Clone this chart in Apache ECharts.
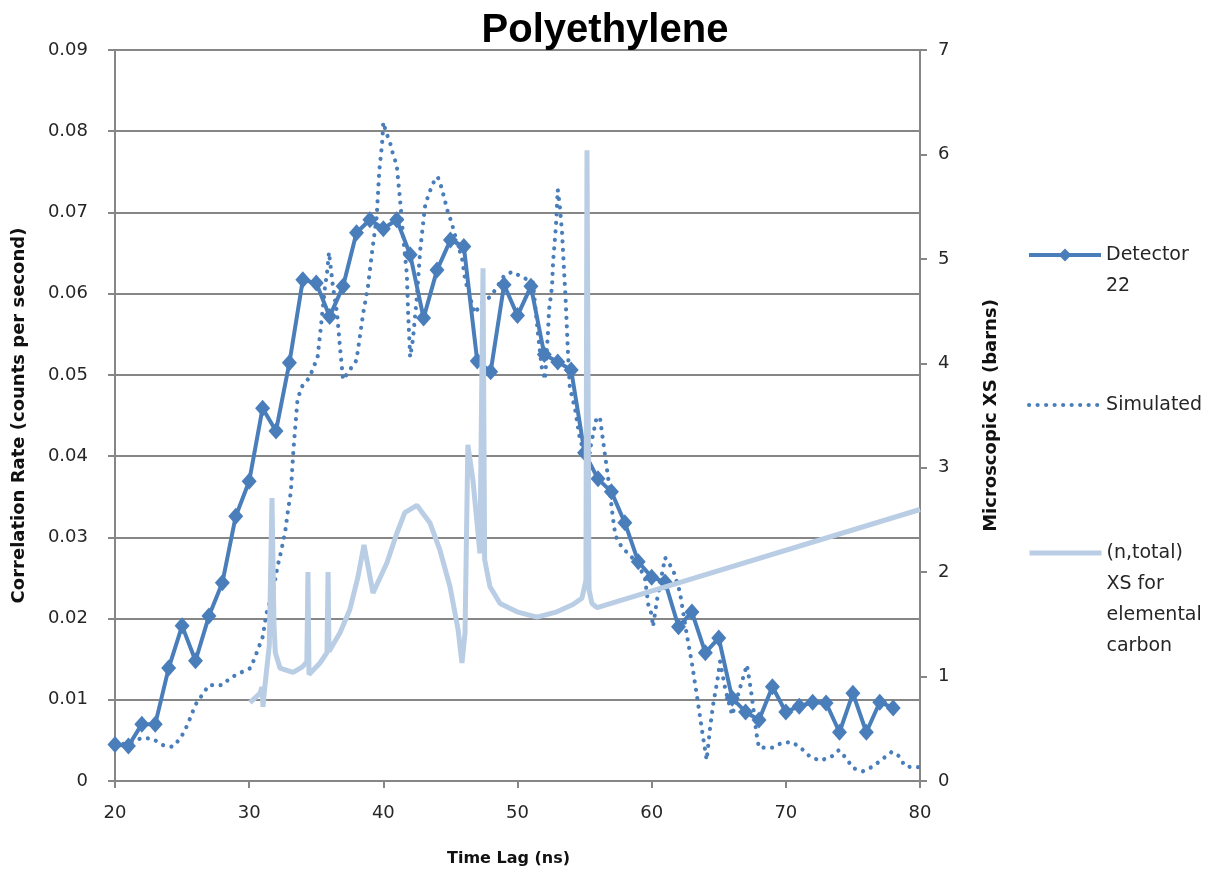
<!DOCTYPE html>
<html>
<head>
<meta charset="utf-8">
<script src="https://cdn.jsdelivr.net/npm/echarts@6/dist/echarts.min.js"></script>
<style>html,body{margin:0;padding:0;background:#fff}#c{width:1225px;height:878px}</style>
</head>
<body>
<div id="c"></div>
<script>
// Detector 22 (counts per second) at integer time lags
const detX = [20,21,22,23,24,25,26,27,28,29,30,31,32,33,34,35,36,37,38,39,40,41,42,43,44,45,46,47,48,49,50,51,52,53,54,55,56,57,58,59,60,61,62,63,64,65,66,67,68,69,70,71,72,73,74,75,76,77,78];
const detY = [0.0045,0.0043,0.0070,0.0070,0.0139,0.0191,0.0148,0.0203,0.0244,0.0326,0.0369,0.0459,0.0431,0.0515,0.0617,0.0613,0.0572,0.0609,0.0675,0.0691,0.0680,0.0691,0.0648,0.0570,0.0629,0.0666,0.0658,0.0517,0.0504,0.0611,0.0573,0.0609,0.0525,0.0516,0.0506,0.0404,0.0372,0.0356,0.0318,0.0270,0.0251,0.0245,0.0190,0.0208,0.0158,0.0176,0.0102,0.0085,0.0075,0.0116,0.0085,0.0092,0.0097,0.0096,0.0060,0.0108,0.0060,0.0097,0.0090];

// Simulated
const simX = [20.0,21.0,22.0,22.8,23.6,24.3,24.9,25.4,26.0,26.5,27.0,28.0,28.6,29.3,30.1,30.4,31.0,31.3,31.8,32.1,32.4,32.7,32.9,33.1,33.3,33.6,33.9,34.5,35.1,35.3,35.45,35.65,35.8,35.95,36.25,36.55,36.77,37.0,37.5,38.0,38.5,38.85,39.15,39.5,39.7,39.9,40.0,40.2,40.5,40.7,41.0,41.25,41.5,41.75,41.85,42.0,42.2,42.5,42.75,43.1,43.35,43.7,44.05,44.35,44.8,45.1,45.5,45.85,46.1,46.3,46.8,47.5,48.0,49.0,49.6,50.4,51.15,51.5,51.8,52.05,52.27,52.35,52.57,52.65,52.8,52.87,53.0,53.15,53.32,53.46,53.6,53.76,53.9,54.3,54.66,55.0,55.3,55.8,55.9,56.15,56.4,56.7,56.9,57.1,57.3,57.8,58.4,59.1,59.5,59.75,60.0,60.1,60.4,61.0,61.6,62.1,62.6,63.0,63.4,63.8,64.1,64.35,64.6,64.9,65.1,65.5,66.0,66.7,67.1,67.4,67.85,68.0,69.0,69.7,70.45,71.1,71.8,72.55,73.4,73.95,74.5,75.0,75.75,76.5,77.2,77.9,78.4,78.9,79.5,80.0];
const simY = [0.0045,0.0046,0.0053,0.0052,0.0044,0.0042,0.0053,0.0069,0.0094,0.0106,0.0118,0.0118,0.0127,0.0133,0.0139,0.0151,0.0177,0.0207,0.0235,0.0263,0.0284,0.0309,0.0334,0.0355,0.0408,0.0469,0.0485,0.0497,0.0522,0.0552,0.0576,0.0608,0.0625,0.0651,0.0608,0.0576,0.0534,0.0494,0.0506,0.0518,0.0576,0.0608,0.0650,0.0694,0.0752,0.0783,0.0811,0.0799,0.0786,0.0773,0.0758,0.0715,0.0666,0.0625,0.0576,0.0522,0.0543,0.0596,0.0654,0.0707,0.0721,0.0736,0.0744,0.0730,0.0701,0.0687,0.0662,0.0645,0.0617,0.0605,0.0576,0.0592,0.0596,0.0622,0.0627,0.0620,0.0614,0.0555,0.0510,0.0494,0.0552,0.0580,0.0608,0.0639,0.0669,0.0685,0.0728,0.0708,0.0676,0.0632,0.0589,0.0528,0.0485,0.0457,0.0420,0.0404,0.0400,0.0440,0.0448,0.0447,0.0416,0.0380,0.0355,0.0325,0.0302,0.0287,0.0278,0.0263,0.0250,0.0217,0.0205,0.0190,0.0223,0.0275,0.0260,0.0233,0.0182,0.0145,0.0102,0.0057,0.0026,0.0065,0.0096,0.0124,0.0147,0.0112,0.0081,0.0121,0.0143,0.0112,0.0054,0.0041,0.0041,0.0047,0.0048,0.0041,0.0030,0.0025,0.0030,0.0038,0.0028,0.0016,0.0012,0.0018,0.0027,0.0036,0.0031,0.0018,0.0017,0.0017];

// (n,total) XS for elemental carbon (barns)
const xsX = [30.06,30.8,30.96,31.03,31.15,31.5,31.7,31.85,31.95,32.3,33.27,33.94,34.3,34.38,34.46,35.28,35.8,35.88,35.95,36.77,37.5,38.1,38.56,39.23,40.27,41.0,41.6,42.5,43.48,44.22,44.97,45.57,45.86,46.09,46.3,46.68,47.2,47.43,47.55,47.95,48.7,49.96,51.45,52.94,54.13,54.8,55.1,55.18,55.33,55.55,55.93,80.0];
const xsY = [0.75,0.84,0.90,0.71,0.88,1.30,2.71,1.50,1.23,1.08,1.04,1.09,1.14,2.00,1.02,1.13,1.23,2.00,1.24,1.42,1.64,1.95,2.26,1.80,2.09,2.37,2.57,2.64,2.47,2.21,1.86,1.45,1.13,1.42,3.22,2.88,2.18,4.91,2.12,1.86,1.70,1.62,1.57,1.62,1.69,1.75,1.92,6.04,1.83,1.70,1.66,2.60];

const seriesNames = ['Detector 22', 'Simulated', '(n,total) XS for elemental carbon'];
const legendText = {
  'Detector 22': '\nDetector\n22',
  'Simulated': 'Simulated',
  '(n,total) XS for elemental carbon': '\n\n\n(n,total)\nXS for\nelemental\ncarbon'
};
const title = 'Polyethylene';
const xName = 'Time Lag (ns)';
const yName = 'Correlation Rate (counts per second)';
const y2Name = 'Microscopic XS (barns)';

const zip = (a, b) => a.map((v, i) => [v, b[i]]);
const chart = echarts.init(document.getElementById('c'), null, {renderer: 'canvas'});
const axisGray = '#868686';
const blue = '#4A7EBB';
const light = '#B9CDE5';
const dotted = {width: 4.2, color: blue, type: [0.01, 8.5], cap: 'round'};
const tickFont = {fontFamily: 'DejaVu Sans', fontSize: 18, color: '#262626'};
const nameFont = {fontFamily: 'DejaVu Sans', fontSize: 16, fontWeight: 'bold', color: '#111'};
const LH = 31;
const legendFont = {fontFamily: 'DejaVu Sans', fontSize: 19, color: '#262626', lineHeight: LH};

function legendFor(name, nLines, centerY, lineStyle, itemStyle) {
  return {
    data: [name], left: 1022, top: centerY - nLines * LH / 2, orient: 'vertical',
    itemWidth: 72, itemHeight: 16, itemGap: 0,
    formatter: n => legendText[n],
    textStyle: legendFont, selectedMode: false,
    lineStyle: lineStyle, itemStyle: itemStyle
  };
}

chart.setOption({
  animation: false,
  title: {
    text: title, left: 600, top: 6, textAlign: 'center',
    textStyle: {fontFamily: 'Liberation Sans', fontWeight: 'bold', fontSize: 40, color: '#000'}
  },
  legend: [
    legendFor(seriesNames[0], 3, 250, {width: 4, color: blue}, {color: blue}),
    legendFor(seriesNames[1], 1, 400, dotted, {opacity: 0}),
    legendFor(seriesNames[2], 7, 548, {width: 5, color: light}, {opacity: 0})
  ],
  grid: {left: 115, right: 305, top: 50, bottom: 97, containLabel: false},
  xAxis: {
    type: 'value', min: 20, max: 80, interval: 10,
    name: xName, nameLocation: 'middle', nameGap: 70,
    nameTextStyle: Object.assign({padding: [0, 18, 0, 0]}, nameFont),
    axisLine: {show: true, onZero: false, lineStyle: {color: axisGray, width: 2}},
    axisTick: {show: true, length: 7, lineStyle: {color: axisGray, width: 2}},
    axisLabel: Object.assign({margin: 23}, tickFont),
    splitLine: {show: false}
  },
  yAxis: [{
    type: 'value', min: 0, max: 0.09, interval: 0.01, position: 'left',
    name: yName, nameLocation: 'middle', nameRotate: 90, nameGap: 87,
    nameTextStyle: Object.assign({}, nameFont, {fontSize: 18}),
    axisLine: {show: true, lineStyle: {color: axisGray, width: 2}},
    axisTick: {show: true, length: 7, lineStyle: {color: axisGray, width: 2}},
    axisLabel: Object.assign({margin: 27}, tickFont),
    splitLine: {show: true, lineStyle: {color: axisGray, width: 2}}
  }, {
    type: 'value', min: 0, max: 7, interval: 1, position: 'right',
    name: y2Name, nameLocation: 'middle', nameRotate: 90, nameGap: 62,
    nameTextStyle: Object.assign({}, nameFont, {fontSize: 18}),
    axisLine: {show: true, lineStyle: {color: axisGray, width: 2}},
    axisTick: {show: true, length: 7, lineStyle: {color: axisGray, width: 2}},
    axisLabel: Object.assign({margin: 18}, tickFont),
    splitLine: {show: false}
  }],
  series: [{
    name: seriesNames[0], type: 'line', yAxisIndex: 0,
    data: zip(detX, detY),
    symbol: 'diamond', symbolSize: [15, 17],
    itemStyle: {color: blue},
    lineStyle: {color: blue, width: 4},
    z: 3
  }, {
    name: seriesNames[1], type: 'line', yAxisIndex: 0,
    data: zip(simX, simY),
    symbol: 'none', showSymbol: false,
    itemStyle: {color: blue},
    lineStyle: dotted,
    z: 4
  }, {
    name: seriesNames[2], type: 'line', yAxisIndex: 1,
    data: zip(xsX, xsY),
    symbol: 'none', showSymbol: false,
    itemStyle: {color: light},
    lineStyle: {color: light, width: 5},
    z: 5
  }]
});
</script>
</body>
</html>
